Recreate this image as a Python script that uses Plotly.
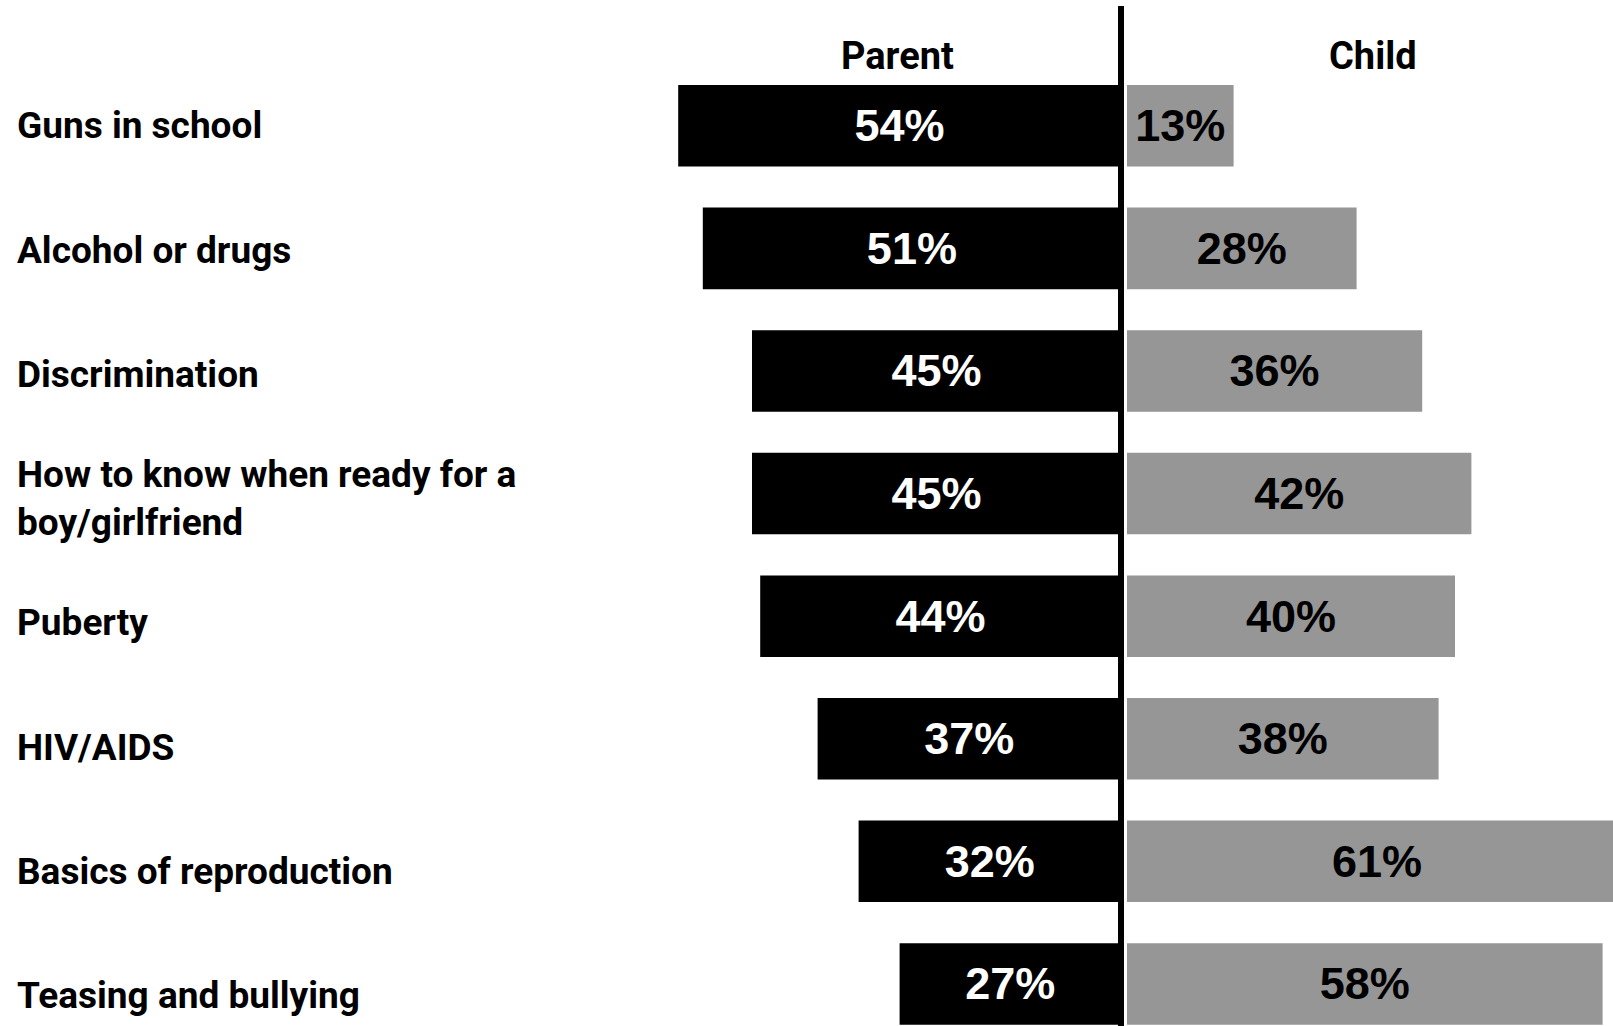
import plotly.graph_objects as go

# Topics discussed, with share of parents and children naming each one
topics = [
    "Guns in school",
    "Alcohol or drugs",
    "Discrimination",
    "How to know when ready for a<br>boy/girlfriend",
    "Puberty",
    "HIV/AIDS",
    "Basics of reproduction",
    "Teasing and bullying",
]
parent_pct = [54, 51, 45, 45, 44, 37, 32, 27]
child_pct = [13, 28, 36, 42, 40, 38, 61, 58]
headers = ["Parent", "Child"]

W, H = 1613, 1026
PX_PER_PCT = 8.2
SPLIT_L, SPLIT_R = 1121, 1127  # pixel edges of the two halves

LABEL_FONT = dict(family="Roboto, Liberation Sans, Arial, sans-serif",
                  size=37, color="black", weight="bold")
HEADER_FONT = dict(LABEL_FONT, size=38)
VALUE_FONT_FAMILY = "Liberation Sans, Arial, sans-serif"

idx = list(range(len(topics)))

fig = go.Figure()

fig.add_trace(go.Bar(
    y=idx, x=parent_pct, orientation="h",
    xaxis="x", yaxis="y",
    marker=dict(color="black", line=dict(width=0)),
    texttemplate="%{x}%", textposition="inside", insidetextanchor="middle",
    constraintext="none",
    textfont=dict(family=VALUE_FONT_FAMILY, size=45, color="white", weight="bold"),
    width=0.665, hoverinfo="skip", showlegend=False,
))

fig.add_trace(go.Bar(
    y=idx, x=child_pct, orientation="h",
    xaxis="x2", yaxis="y",
    marker=dict(color="#969696", line=dict(width=0)),
    texttemplate="%{x}%", textposition="inside", insidetextanchor="middle",
    constraintext="none",
    textfont=dict(family=VALUE_FONT_FAMILY, size=45, color="black", weight="bold"),
    width=0.665, hoverinfo="skip", showlegend=False,
))

# Topic labels on their own hidden axis, left aligned
annotations = []
for i, t in enumerate(topics):
    annotations.append(dict(
        x=15 / W, xref="paper", xanchor="left",
        y=i, yref="y3", yanchor="middle",
        text=t, showarrow=False, align="left", font=LABEL_FONT,
    ))

# Column headers
annotations.append(dict(x=897 / W, xref="paper", y=1 - 56 / H, yref="paper",
                        text=headers[0], showarrow=False, font=HEADER_FONT,
                        xanchor="center", yanchor="middle"))
annotations.append(dict(x=1373 / W, xref="paper", y=1 - 56 / H, yref="paper",
                        text=headers[1], showarrow=False, font=HEADER_FONT,
                        xanchor="center", yanchor="middle"))

fig.update_layout(
    width=W, height=H,
    margin=dict(l=0, r=0, t=0, b=0),
    paper_bgcolor="white", plot_bgcolor="white",
    barmode="overlay",
    xaxis=dict(domain=[0, SPLIT_L / W], range=[SPLIT_L / PX_PER_PCT, 0],
               visible=False, fixedrange=True),
    xaxis2=dict(domain=[SPLIT_R / W, 1], range=[0, (W - SPLIT_R) / PX_PER_PCT],
                anchor="y", visible=False, fixedrange=True),
    yaxis=dict(range=[7.343, -1.026], visible=False, fixedrange=True),
    yaxis3=dict(range=[7.243, -1.012], overlaying="y", visible=False, fixedrange=True),
    annotations=annotations,
    shapes=[dict(type="line", xref="paper", yref="paper",
                 x0=SPLIT_L / W, x1=SPLIT_L / W, y0=0, y1=1 - 6 / H,
                 line=dict(color="black", width=6), layer="above")],
)

fig.write_html("out.html")
